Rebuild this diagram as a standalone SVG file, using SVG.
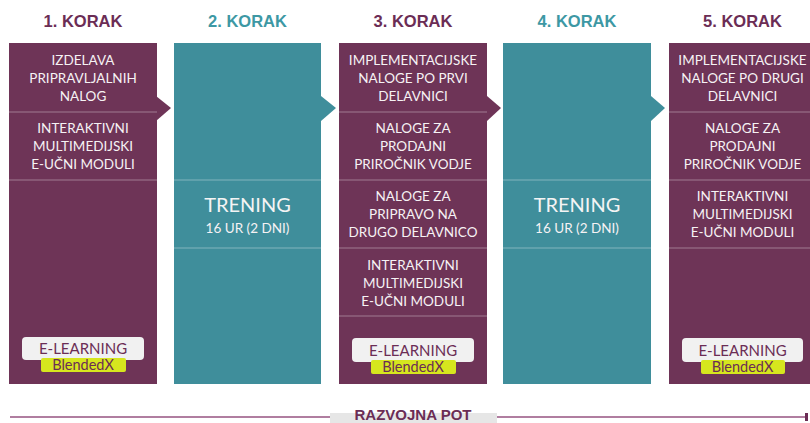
<svg xmlns="http://www.w3.org/2000/svg" width="810" height="423" viewBox="0 0 810 423">
<style>
.hd{font-family:"Liberation Sans",Arial,sans-serif;font-weight:bold;font-size:16.5px;text-anchor:middle}
.hp{fill:#6b2d55}
.ht{fill:#3d98a4}
.pu{fill:#6e3457}
.te{fill:#3f8e9b}
.dv{stroke:#ffffff;stroke-opacity:0.35;stroke-width:1}
.t{font-family:Lato,"Open Sans",sans-serif;font-size:13.5px;fill:#f6f2f4;text-anchor:middle}
.big{font-family:Lato,"Open Sans",sans-serif;font-size:20px;fill:#f4f4f4;text-anchor:middle}
.el{fill:#f1f1f1}
.elt{font-family:Lato,"Open Sans",sans-serif;font-size:15px;fill:#6b2d55;text-anchor:middle}
.bx{fill:#d6e61e}
.bxt{font-family:Lato,"Open Sans",sans-serif;font-size:14.5px;fill:#6b2d55;text-anchor:middle}
.conn{stroke:#b07ea0;stroke-width:2;fill:none}
</style>
<defs>
<marker id="endtick" markerWidth="4" markerHeight="8" refX="2" refY="4" orient="auto" markerUnits="userSpaceOnUse">
<rect x="0" y="0" width="3" height="8" fill="#6b2d55"/>
</marker>
</defs>

<g id="connectors">
<polygon class="pu" points="156,96 171,108 156,121"/>
<polygon class="te" points="321,96 336,108 321,121"/>
<polygon class="pu" points="487,96 501,108 487,121"/>
<polygon class="te" points="651,96 665,108 651,121"/>
<line class="conn" x1="10" y1="417" x2="807" y2="417" marker-end="url(#endtick)"/>
</g>

<g id="step1">
<text class="hd hp" x="83" y="27">1. KORAK</text>
<rect class="pu" x="9" y="43" width="148" height="341"/>
<line class="dv" x1="9" y1="112" x2="157" y2="112"/>
<line class="dv" x1="9" y1="180" x2="157" y2="180"/>
<text class="t" x="83" y="65">IZDELAVA</text>
<text class="t" x="83" y="83">PRIPRAVLJALNIH</text>
<text class="t" x="83" y="101">NALOG</text>
<text class="t" x="83" y="133">INTERAKTIVNI</text>
<text class="t" x="83" y="151">MULTIMEDIJSKI</text>
<text class="t" x="83" y="169">E-UČNI MODULI</text>
<rect class="el" x="22" y="337" width="122" height="23" rx="4"/>
<rect class="bx" x="41" y="358" width="85" height="14" rx="2"/>
<text class="elt" x="83" y="354">E-LEARNING</text>
<text class="bxt" x="83" y="370">BlendedX</text>
</g>

<g id="step2">
<text class="hd ht" x="247.5" y="27">2. KORAK</text>
<rect class="te" x="174" y="43" width="147" height="341"/>
<line class="dv" x1="174" y1="180" x2="321" y2="180"/>
<line class="dv" x1="174" y1="248" x2="321" y2="248"/>
<text class="big" x="247.5" y="212">TRENING</text>
<text class="t" x="247.5" y="233">16 UR (2 DNI)</text>
</g>

<g id="step3">
<text class="hd hp" x="413" y="27">3. KORAK</text>
<rect class="pu" x="339" y="43" width="148" height="341"/>
<line class="dv" x1="339" y1="112" x2="487" y2="112"/>
<line class="dv" x1="339" y1="180" x2="487" y2="180"/>
<line class="dv" x1="339" y1="248" x2="487" y2="248"/>
<line class="dv" x1="339" y1="316" x2="487" y2="316"/>
<text class="t" x="413" y="65">IMPLEMENTACIJSKE</text>
<text class="t" x="413" y="83">NALOGE PO PRVI</text>
<text class="t" x="413" y="101">DELAVNICI</text>
<text class="t" x="413" y="133">NALOGE ZA</text>
<text class="t" x="413" y="151">PRODAJNI</text>
<text class="t" x="413" y="169">PRIROČNIK VODJE</text>
<text class="t" x="413" y="201">NALOGE ZA</text>
<text class="t" x="413" y="219">PRIPRAVO NA</text>
<text class="t" x="413" y="237">DRUGO DELAVNICO</text>
<text class="t" x="413" y="270">INTERAKTIVNI</text>
<text class="t" x="413" y="288">MULTIMEDIJSKI</text>
<text class="t" x="413" y="306">E-UČNI MODULI</text>
<rect class="el" x="352" y="338" width="122" height="24" rx="4"/>
<rect class="bx" x="371" y="360" width="85" height="14" rx="2"/>
<text class="elt" x="413" y="356">E-LEARNING</text>
<text class="bxt" x="413" y="372">BlendedX</text>
</g>

<g id="step4">
<text class="hd ht" x="577" y="27">4. KORAK</text>
<rect class="te" x="503" y="43" width="148" height="341"/>
<line class="dv" x1="503" y1="180" x2="651" y2="180"/>
<line class="dv" x1="503" y1="248" x2="651" y2="248"/>
<text class="big" x="577" y="212">TRENING</text>
<text class="t" x="577" y="233">16 UR (2 DNI)</text>
</g>

<g id="step5">
<text class="hd hp" x="742.5" y="27">5. KORAK</text>
<rect class="pu" x="669" y="43" width="148" height="341"/>
<line class="dv" x1="669" y1="112" x2="817" y2="112"/>
<line class="dv" x1="669" y1="180" x2="817" y2="180"/>
<line class="dv" x1="669" y1="248" x2="817" y2="248"/>
<text class="t" x="742.5" y="65">IMPLEMENTACIJSKE</text>
<text class="t" x="742.5" y="83">NALOGE PO DRUGI</text>
<text class="t" x="742.5" y="101">DELAVNICI</text>
<text class="t" x="742.5" y="133">NALOGE ZA</text>
<text class="t" x="742.5" y="151">PRODAJNI</text>
<text class="t" x="742.5" y="169">PRIROČNIK VODJE</text>
<text class="t" x="742.5" y="201">INTERAKTIVNI</text>
<text class="t" x="742.5" y="219">MULTIMEDIJSKI</text>
<text class="t" x="742.5" y="237">E-UČNI MODULI</text>
<rect class="el" x="682" y="338" width="121" height="24" rx="4"/>
<rect class="bx" x="701" y="360" width="84" height="14" rx="2"/>
<text class="elt" x="742.5" y="356">E-LEARNING</text>
<text class="bxt" x="742.5" y="372">BlendedX</text>
</g>

<g id="path-label">
<rect x="330" y="413" width="167" height="10" fill="#e6e6e6"/>
<text x="413" y="420" font-family="Liberation Sans,Arial,sans-serif" font-weight="bold" font-size="15px" fill="#6b2d55" text-anchor="middle">RAZVOJNA POT</text>
</g>
</svg>
